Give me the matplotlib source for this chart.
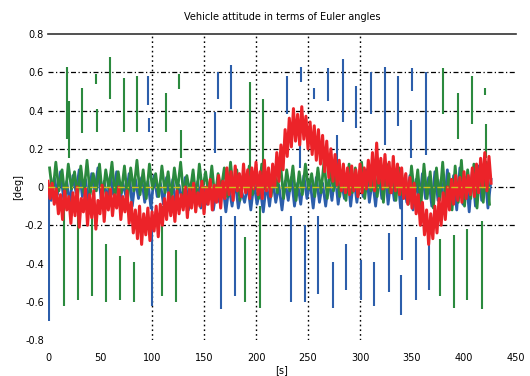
import numpy as np
import matplotlib.pyplot as plt

# attitude angles [deg] sampled over the run
t_red = np.arange(0, 428, 2)
roll = [0.03, -0.06, 0.02, -0.09, -0.01, -0.14, -0.04, -0.17, -0.02, -0.12,
        -0.05, -0.19, -0.03, -0.15, 0.0, -0.21, -0.06, -0.13, -0.01, -0.2,
        -0.04, -0.16, -0.02, -0.22, -0.07, -0.14, 0.01, -0.18, -0.03, -0.12,
        -0.01, -0.15, -0.04, -0.11, 0.0, -0.17, -0.05, -0.13, -0.02, -0.19,
        -0.08, -0.24, -0.12, -0.27, -0.1, -0.3, -0.14, -0.25, -0.11, -0.28,
        -0.13, -0.23, -0.1, -0.26, -0.09, -0.2, -0.06, -0.17, -0.03, -0.15,
        -0.05, -0.18, -0.02, -0.14, -0.04, -0.12, 0.0, -0.16, -0.01, -0.11,
        0.02, -0.13, -0.03, -0.1, 0.03, -0.14, 0.0, -0.09, 0.04, -0.12,
        0.01, -0.08, 0.06, -0.11, 0.03, -0.06, 0.1, -0.04, 0.08, -0.07,
        0.11, -0.02, 0.07, -0.05, 0.12, -0.03, 0.09, -0.06, 0.1, -0.01,
        0.13, -0.04, 0.08, -0.06, 0.14, -0.02, 0.1, -0.05, 0.12, 0.0,
        0.18, 0.03, 0.22, 0.09, 0.3, 0.16, 0.36, 0.21, 0.41, 0.24,
        0.38, 0.22, 0.42, 0.25, 0.37, 0.2, 0.34, 0.17, 0.32, 0.14,
        0.3, 0.12, 0.27, 0.08, 0.24, 0.05, 0.2, 0.03, 0.17, 0.01,
        0.14, -0.02, 0.12, -0.03, 0.1, -0.04, 0.11, -0.02, 0.09, -0.05,
        0.12, -0.03, 0.1, -0.01, 0.14, 0.0, 0.18, -0.02, 0.23, 0.02,
        0.15, -0.01, 0.17, 0.0, 0.13, -0.03, 0.16, -0.02, 0.12, -0.04,
        0.1, -0.06, 0.07, -0.09, 0.05, -0.11, 0.02, -0.14, -0.04, -0.2,
        -0.08, -0.25, -0.12, -0.3, -0.14, -0.27, -0.1, -0.24, -0.06, -0.2,
        -0.03, -0.17, 0.0, -0.12, 0.04, -0.09, 0.06, -0.07, 0.05, -0.08,
        0.08, -0.06, 0.06, -0.04, 0.1, -0.05, 0.12, -0.03, 0.15, 0.0,
        0.18, -0.02, 0.16, 0.02]

t_blue = np.arange(0, 428, 3)
pitch = [0.02, -0.07, 0.05, -0.04, 0.08, -0.06, 0.03, -0.09, 0.06, -0.03,
         0.09, -0.05, 0.04, -0.08, 0.07, -0.02, 0.1, -0.06, 0.03, -0.07,
         0.06, -0.04, 0.08, -0.09, 0.02, -0.05, 0.07, -0.1, 0.04, -0.06,
         0.05, -0.08, 0.03, -0.11, 0.06, -0.05, 0.02, -0.09, 0.05, -0.07,
         0.04, -0.1, 0.01, -0.07, 0.05, -0.12, 0.02, -0.08, 0.03, -0.11,
         0.0, -0.09, 0.03, -0.12, -0.01, -0.08, 0.02, -0.13, 0.0, -0.1,
         0.03, -0.11, -0.02, -0.08, 0.01, -0.12, 0.02, -0.09, -0.01, -0.13,
         0.02, -0.1, 0.04, -0.08, 0.01, -0.12, 0.03, -0.07, 0.05, -0.1,
         0.02, -0.09, 0.06, -0.06, 0.03, -0.11, 0.05, -0.08, 0.02, -0.1,
         0.04, -0.07, 0.07, -0.09, 0.03, -0.06, 0.08, -0.1, 0.05, -0.08,
         0.06, -0.05, 0.09, -0.08, 0.04, -0.1, 0.07, -0.06, 0.1, -0.09,
         0.05, -0.07, 0.08, -0.11, 0.03, -0.08, 0.06, -0.12, 0.04, -0.09,
         0.07, -0.06, 0.05, -0.1, 0.08, -0.07, 0.04, -0.11, 0.09, -0.08,
         0.06, -0.12, 0.1, -0.09, 0.05, -0.13, 0.08, -0.1, 0.11, -0.07,
         0.07, -0.11, 0.04]

t_green = np.arange(1.5, 426, 3)
yaw = [0.1, -0.04, 0.13, -0.02, 0.09, -0.06, 0.12, -0.01, 0.08, -0.05,
       0.11, -0.03, 0.14, -0.04, 0.07, -0.02, 0.12, -0.06, 0.09, -0.01,
       0.13, -0.05, 0.08, -0.03, 0.11, -0.07, 0.1, -0.02, 0.14, -0.04,
       0.09, -0.06, 0.12, -0.01, 0.07, -0.05, 0.11, -0.03, 0.08, -0.06,
       0.1, -0.02, 0.13, -0.05, 0.06, -0.03, 0.09, -0.07, 0.12, -0.02,
       0.08, -0.04, 0.11, -0.06, 0.07, -0.01, 0.1, -0.05, 0.13, -0.03,
       0.09, -0.07, 0.06, -0.02, 0.11, -0.04, 0.08, -0.06, 0.12, -0.01,
       0.07, -0.05, 0.1, -0.03, 0.13, -0.06, 0.09, -0.02, 0.11, -0.07,
       0.08, -0.04, 0.12, -0.01, 0.07, -0.05, 0.1, -0.03, 0.14, -0.06,
       0.09, -0.02, 0.11, -0.05, 0.08, -0.07, 0.12, -0.03, 0.1, -0.04,
       0.13, -0.06, 0.07, -0.02, 0.11, -0.05, 0.09, -0.08, 0.12, -0.03,
       0.08, -0.07, 0.1, -0.04, 0.06, -0.09, 0.11, -0.05, 0.09, -0.1,
       0.12, -0.06, 0.08, -0.11, 0.1, -0.07, 0.13, -0.09, 0.07, -0.12,
       0.11, -0.08, 0.14, -0.1, 0.09, -0.06, 0.12, -0.11, 0.1, -0.08,
       0.13, -0.09]

# isolated glitches in pitch and yaw: time, low end, high end
pitch_spike_t = [1, 96, 97, 100, 161, 163, 166, 176, 180, 230, 234, 242, 243,
                 247, 256, 260, 269, 274, 278, 284, 287, 296, 301, 311, 313,
                 324, 328, 337, 339, 340, 349, 350, 354, 363, 366]
pitch_spike_lo = [-0.70, 0.43, 0.29, -0.62, 0.18, 0.46, -0.64, 0.41, -0.57,
                  0.38, -0.60, 0.10, 0.55, -0.60, 0.46, -0.56, 0.45, -0.63,
                  0.08, 0.34, -0.54, 0.31, -0.59, 0.38, -0.62, 0.22, -0.55,
                  0.32, -0.67, -0.38, 0.15, 0.50, -0.59, 0.17, -0.54]
pitch_spike_hi = [0.00, 0.58, 0.36, -0.10, 0.39, 0.60, -0.15, 0.64, -0.15,
                  0.58, -0.15, 0.25, 0.63, -0.20, 0.52, -0.15, 0.62, -0.39,
                  0.27, 0.67, -0.30, 0.53, -0.38, 0.60, -0.39, 0.63, -0.24,
                  0.58, -0.46, -0.06, 0.35, 0.62, -0.26, 0.60, -0.29]

yaw_spike_t = [15, 18, 20, 29, 33, 42, 46, 47, 56, 60, 69, 73, 83, 86, 110,
               113, 123, 126, 128, 189, 194, 204, 207, 377, 380, 390, 394,
               403, 408, 417, 420, 421]
yaw_spike_lo = [-0.62, 0.25, 0.15, -0.59, 0.28, -0.57, 0.54, 0.29, -0.60,
                0.46, -0.59, 0.29, -0.60, 0.29, -0.57, 0.29, -0.60, 0.51,
                0.15, -0.60, 0.04, -0.63, 0.09, -0.57, 0.38, -0.63, 0.25,
                -0.59, 0.33, -0.64, 0.48, 0.15]
yaw_spike_hi = [-0.10, 0.63, 0.45, -0.10, 0.52, -0.10, 0.59, 0.41, -0.30,
                0.68, -0.36, 0.57, -0.39, 0.58, -0.10, 0.49, -0.33, 0.59,
                0.30, -0.26, 0.55, -0.10, 0.46, -0.27, 0.62, -0.25, 0.49,
                -0.22, 0.58, -0.18, 0.52, 0.33]

t_ref = [0, 427]
ref = [0.0, 0.0]

x_ticks = [0, 50, 100, 150, 200, 250, 300, 350, 400, 450]
y_ticks = [0.8, 0.6, 0.4, 0.2, 0, -0.2, -0.4, -0.6, -0.8]
x_grid = [100, 150, 200, 250, 300]
y_grid = [0.6, 0.4, 0.2, 0, -0.2]

blue = '#2c5eab'
green = '#2b8a3e'
red = '#ec2329'
yellow = '#cfc21c'

plt.rcParams['font.family'] = ['Liberation Sans Narrow', 'DejaVu Sans']

fig = plt.figure(figsize=(5.3, 3.76), dpi=100)
ax = fig.add_axes([0.0906, 0.0957, 0.883, 0.8138])

for g in x_grid:
    ax.axvline(g, color='black', lw=1.0, ls=(0, (1.2, 2.2)), zorder=1)
for g in y_grid:
    ax.axhline(g, color='black', lw=0.9, ls=(0, (4, 2, 1, 2)), zorder=1)

ax.plot(t_blue, pitch, color=blue, lw=2.0, zorder=2)
ax.vlines(pitch_spike_t, pitch_spike_lo, pitch_spike_hi, color=blue, lw=1.5, zorder=2)
ax.plot(t_green, yaw, color=green, lw=2.0, zorder=3)
ax.vlines(yaw_spike_t, yaw_spike_lo, yaw_spike_hi, color=green, lw=1.5, zorder=3)
ax.plot(t_red, roll, color=red, lw=2.2, zorder=4)
ax.plot(t_ref, ref, color=yellow, lw=1.0, ls=(0, (5, 2, 1, 2)), zorder=5)

ax.set_xlim(0, 450)
ax.set_ylim(-0.8, 0.8)
ax.set_xticks(x_ticks)
ax.set_xticklabels([str(v) for v in x_ticks])
ax.set_yticks(y_ticks)
ax.set_yticklabels(['0.8', '0.6', '0.4', '0.2', '0', '-0.2', '-0.4', '-0.6', '-0.8'])
ax.set_xticks(x_grid, minor=True)
ax.tick_params(axis='both', which='major', length=0, labelsize=7)
ax.tick_params(axis='x', which='major', pad=9)
ax.tick_params(axis='y', which='major', pad=3)
ax.tick_params(axis='x', which='minor', direction='in', length=5, width=1.2,
               top=True, bottom=True)

for side in ['left', 'right', 'bottom']:
    ax.spines[side].set_visible(False)
ax.spines['top'].set_linewidth(1.2)
ax.spines['top'].set_color('#333333')

ax.set_title('Vehicle attitude in terms of Euler angles', fontsize=7, pad=10)
ax.set_xlabel('[s]', fontsize=7, labelpad=2)
ax.set_ylabel('[deg]', fontsize=7, labelpad=1)

fig.savefig('out.png', dpi=100)
